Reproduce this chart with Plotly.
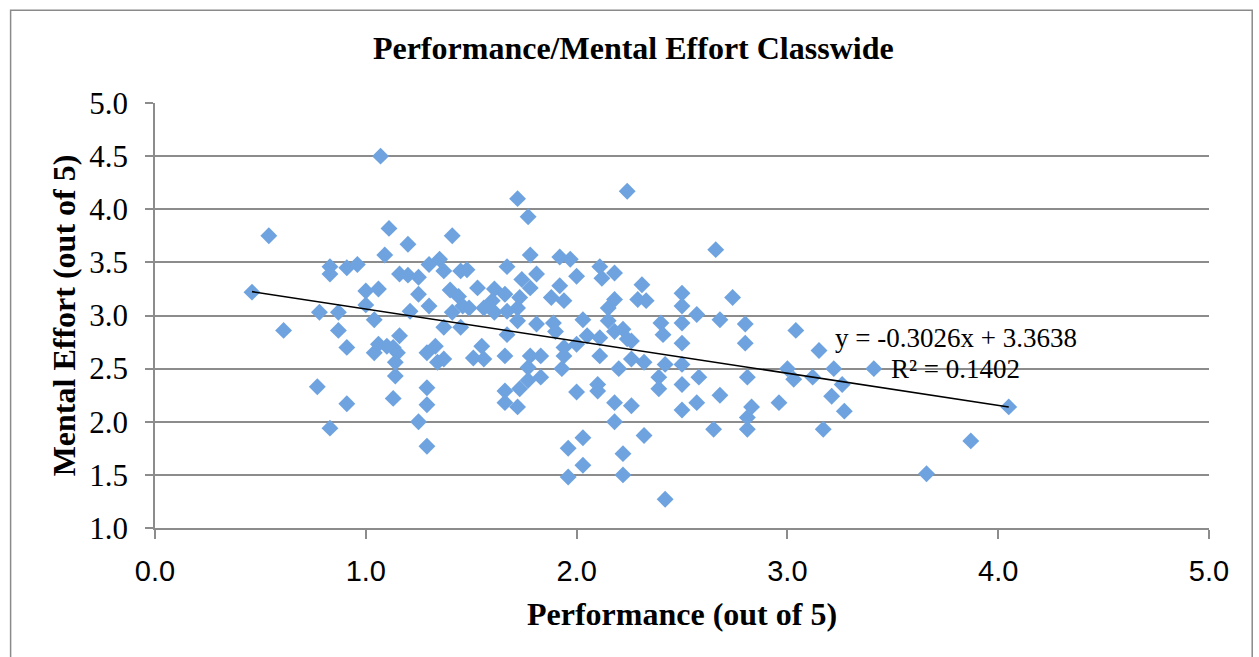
import plotly.graph_objects as go

TITLE = "Performance/Mental Effort Classwide"
X_TITLE = "Performance (out of 5)"
Y_TITLE = "Mental Effort (out of 5)"
EQ_TEXT = "y = -0.3026x + 3.3638"
R2_TEXT = "R² = 0.1402"
TREND_SLOPE = -0.3026
TREND_INTERCEPT = 3.3638

PERFORMANCE = [
    0.46, 0.54, 0.61, 0.77, 0.78, 0.83, 0.83, 0.83, 0.87, 0.87,
    0.91, 0.91, 0.91, 0.96, 1.00, 1.00, 1.04, 1.04, 1.06, 1.06,
    1.07, 1.09, 1.10, 1.11, 1.13, 1.13, 1.15, 1.14, 1.14, 1.16,
    1.16, 1.20, 1.21, 1.20, 1.25, 1.25, 1.25, 1.29, 1.29, 1.29,
    1.29, 1.30, 1.30, 1.33, 1.34, 1.37, 1.35, 1.37, 1.37, 1.40,
    1.41, 1.41, 1.44, 1.45, 1.46, 1.45, 1.48, 1.49, 1.51, 1.53,
    1.55, 1.56, 1.56, 1.60, 1.61, 1.61, 1.66, 1.67, 1.67, 1.67,
    1.66, 1.66, 1.66, 1.72, 1.72, 1.72, 1.72, 1.73, 1.73, 1.77,
    1.77, 1.74, 1.78, 1.78, 1.81, 1.78, 1.83, 1.77, 1.83, 1.81,
    1.88, 1.89, 1.90, 1.92, 1.94, 1.92, 1.97, 1.94, 1.94, 1.93,
    1.96, 1.96, 2.00, 2.00, 2.00, 2.03, 2.03, 2.03, 2.05, 2.10,
    2.10, 2.11, 2.11, 2.11, 2.12, 2.15, 2.15, 2.18, 2.18, 2.18,
    2.20, 2.18, 2.18, 2.22, 2.24, 2.26, 2.22, 2.22, 2.24, 2.26,
    2.26, 2.29, 2.31, 2.33, 2.32, 2.32, 2.40, 2.41, 2.42, 2.39,
    2.39, 2.42, 2.50, 2.50, 2.50, 2.50, 2.50, 2.50, 2.50, 2.57,
    2.58, 2.57, 2.66, 2.65, 2.68, 2.68, 2.74, 2.80, 2.80, 2.81,
    2.81, 2.81, 2.83, 2.96, 3.00, 3.03, 3.04, 3.12, 3.15, 3.17,
    3.21, 3.22, 3.26, 3.27, 3.41, 3.66, 3.87, 4.05,
]

MENTAL_EFFORT = [
    3.22, 3.75, 2.86, 2.33, 3.03, 3.46, 3.39, 1.94, 3.03, 2.86,
    3.45, 2.70, 2.17, 3.48, 3.23, 3.10, 2.96, 2.65, 3.25, 2.73,
    4.50, 3.57, 2.71, 3.82, 2.70, 2.22, 2.65, 2.56, 2.43, 2.81,
    3.39, 3.67, 3.04, 3.38, 3.20, 3.36, 2.00, 2.65, 2.32, 2.16,
    1.77, 3.48, 3.09, 2.71, 2.56, 2.89, 3.53, 3.42, 2.59, 3.24,
    3.03, 3.75, 3.18, 3.42, 3.09, 2.89, 3.43, 3.07, 2.60, 3.26,
    2.71, 2.59, 3.07, 3.14, 3.03, 3.25, 3.20, 3.46, 3.04, 2.82,
    2.62, 2.29, 2.18, 2.14, 4.10, 3.07, 2.95, 3.17, 2.31, 2.39,
    3.93, 3.34, 3.26, 3.57, 3.39, 2.62, 2.62, 2.51, 2.42, 2.92,
    3.17, 2.93, 2.85, 3.28, 3.14, 3.55, 3.53, 2.70, 2.62, 2.50,
    1.75, 1.48, 3.37, 2.28, 2.73, 2.96, 1.85, 1.59, 2.81, 2.35,
    2.29, 2.79, 2.62, 3.46, 3.35, 3.07, 2.95, 2.85, 3.15, 3.40,
    2.50, 2.18, 2.00, 2.87, 2.78, 2.76, 1.70, 1.50, 4.17, 2.59,
    2.15, 3.15, 3.29, 3.14, 2.56, 1.87, 2.93, 2.82, 2.54, 2.42,
    2.31, 1.27, 3.21, 3.09, 2.93, 2.74, 2.54, 2.35, 2.11, 3.01,
    2.42, 2.18, 3.62, 1.93, 2.96, 2.25, 3.17, 2.92, 2.74, 2.42,
    2.04, 1.93, 2.14, 2.18, 2.50, 2.40, 2.86, 2.42, 2.67, 1.93,
    2.24, 2.50, 2.35, 2.10, 2.50, 1.51, 1.82, 2.14,
]

X_TICKS = [0, 1, 2, 3, 4, 5]
Y_TICKS = [1.0, 1.5, 2.0, 2.5, 3.0, 3.5, 4.0, 4.5, 5.0]

SERIF = "Liberation Serif, Times New Roman, serif"
SANS = "Liberation Sans, Arial, sans-serif"
GRID = "#8c8c8c"
MARKER = "#6fa3df"

x_min, x_max = min(PERFORMANCE), max(PERFORMANCE)
trend_x = [x_min, x_max]
trend_y = [TREND_SLOPE * v + TREND_INTERCEPT for v in trend_x]

fig = go.Figure()
fig.add_trace(go.Scatter(
    x=PERFORMANCE, y=MENTAL_EFFORT, mode="markers",
    marker=dict(symbol="diamond", size=13, color=MARKER, line=dict(width=0)),
    showlegend=False, name="Students",
))
fig.add_trace(go.Scatter(
    x=trend_x, y=trend_y, mode="lines",
    line=dict(color="black", width=1.6), showlegend=False, name="Linear trend",
))

fig.add_annotation(x=3.215, y=2.785, xref="x", yref="y", text=EQ_TEXT,
                   showarrow=False, xanchor="left", yanchor="middle",
                   font=dict(family=SERIF, size=27, color="black"))
fig.add_annotation(x=3.48, y=2.50, xref="x", yref="y", text=R2_TEXT,
                   showarrow=False, xanchor="left", yanchor="middle",
                   font=dict(family=SERIF, size=27, color="black"))

# outer chart frame
fig.add_shape(type="rect", xref="paper", yref="paper",
              x0=-0.137, x1=1.041, y0=-0.33, y1=1.218,
              line=dict(color="#8a8a8a", width=1.5), layer="below")

fig.update_layout(
    width=1259, height=657,
    paper_bgcolor="white", plot_bgcolor="white",
    margin=dict(l=154.5, r=50.4, t=102.7, b=129.3),
    title=dict(text=f"<b>{TITLE}</b>", x=0.503, xanchor="center",
               y=1 - 48 / 657, yanchor="middle", yref="container",
               font=dict(family=SERIF, size=32, color="black")),
    xaxis=dict(
        range=[0, 5], tickvals=X_TICKS, tickformat=".1f",
        showgrid=False, zeroline=False,
        showline=True, linecolor=GRID, linewidth=1.5,
        ticks="outside", ticklen=9, tickcolor=GRID, tickwidth=1.5,
        ticklabelstandoff=7,
        tickfont=dict(family=SANS, size=29, color="black"),
        title=dict(text=f"<b>{X_TITLE}</b>", standoff=17,
                   font=dict(family=SERIF, size=32, color="black")),
    ),
    yaxis=dict(
        range=[1, 5], tickvals=Y_TICKS, tickformat=".1f",
        showgrid=True, gridcolor=GRID, gridwidth=1.5, zeroline=False,
        showline=True, linecolor=GRID, linewidth=1.5,
        ticks="outside", ticklen=8, tickcolor=GRID, tickwidth=1.5,
        ticklabelstandoff=11,
        tickfont=dict(family=SERIF, size=31, color="black"),
        title=dict(text=f"<b>{Y_TITLE}</b>", standoff=4,
                   font=dict(family=SERIF, size=32, color="black")),
    ),
)

fig.write_html("out.html", config={"displayModeBar": False},
               post_script="document.body.style.margin='0';")
